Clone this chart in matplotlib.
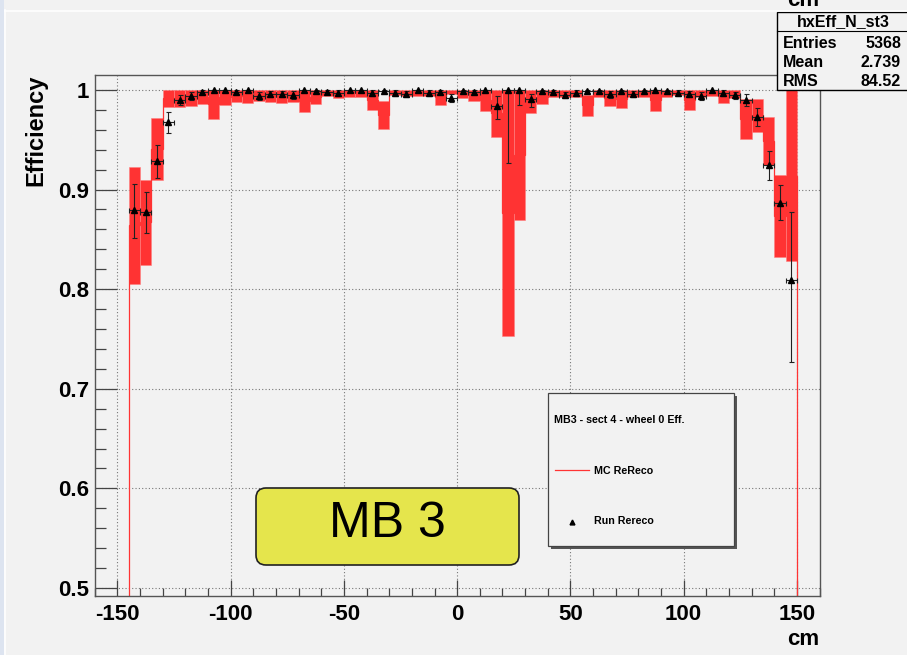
import numpy as np
import matplotlib
matplotlib.use("Agg")
import matplotlib.pyplot as plt
from matplotlib.ticker import MultipleLocator
from matplotlib.patches import Rectangle, FancyBboxPatch
from matplotlib.lines import Line2D

plt.rcParams['font.family'] = ['Liberation Sans', 'DejaVu Sans']
plt.rcParams['axes.unicode_minus'] = False

# ---- data -------------------------------------------------------------
bin_edges = np.arange(-150.0, 150.0 + 5.0, 5.0)   # 60 bins, 5 cm wide
bin_centers = 0.5 * (bin_edges[:-1] + bin_edges[1:])

# MC ReReco efficiency per bin and its error band half-width
mc_eff = [np.nan, 0.864, 0.867, 0.941, 0.9915, 0.9915, 0.992, 0.993, 0.9855, 0.9925,
          0.994, 0.9935, 0.9945, 0.994, 0.9935, 0.994, 0.989, 0.993, 0.997, 0.996,
          0.9965, 0.9965, 0.990, 0.975, 0.9975, 0.997, 0.997, 0.997, 0.9925, 0.998,
          0.996, 0.9945, 0.9895, 0.9765, 0.8765, 0.9345, 0.9885, 0.993, 0.9965, 0.9965,
          0.9965, 0.9845, 0.9965, 0.992, 0.991, 0.9965, 0.9965, 0.9895, 0.9965, 0.9975,
          0.990, 0.9965, 0.997, 0.9935, 0.996, 0.971, 0.9745, 0.949, 0.8735, 0.914]
mc_err = [np.nan, 0.059, 0.043, 0.031, 0.0085, 0.0085, 0.008, 0.007, 0.0145, 0.0075,
          0.006, 0.0065, 0.0055, 0.006, 0.0065, 0.006, 0.011, 0.007, 0.003, 0.004,
          0.0035, 0.0035, 0.010, 0.014, 0.0025, 0.003, 0.003, 0.003, 0.0075, 0.002,
          0.004, 0.0055, 0.0105, 0.0235, 0.1235, 0.0655, 0.0115, 0.007, 0.0035, 0.0035,
          0.0035, 0.0105, 0.0035, 0.008, 0.009, 0.0035, 0.0035, 0.0105, 0.0035, 0.0025,
          0.010, 0.0035, 0.003, 0.0065, 0.004, 0.020, 0.0165, 0.024, 0.0415, 0.086]

# Run Rereco efficiency per bin with asymmetric errors
run_eff = [np.nan, 0.879, 0.877, 0.929, 0.968, 0.990, 0.994, 0.998, 1.000, 1.000,
           0.998, 1.000, 0.994, 0.996, 0.996, 0.995, 1.000, 0.999, 0.998, 0.997,
           1.000, 1.000, 0.997, 0.999, 0.997, 0.996, 1.000, 0.997, 0.998, 0.992,
           0.999, 0.998, 1.000, 0.984, 1.000, 1.000, 0.991, 0.999, 0.998, 0.995,
           0.997, 0.999, 0.999, 0.996, 0.999, 0.996, 0.999, 1.000, 0.999, 0.997,
           0.996, 0.994, 1.000, 0.997, 0.995, 0.990, 0.973, 0.925, 0.887, 0.809]
run_err_lo = [np.nan, 0.028, 0.021, 0.017, 0.011, 0.005, 0.004, 0.002, 0.002, 0.002,
              0.002, 0.002, 0.004, 0.003, 0.003, 0.004, 0.002, 0.002, 0.002, 0.003,
              0.002, 0.002, 0.003, 0.002, 0.003, 0.003, 0.002, 0.003, 0.002, 0.004,
              0.002, 0.002, 0.002, 0.013, 0.073, 0.015, 0.008, 0.002, 0.002, 0.003,
              0.003, 0.002, 0.002, 0.004, 0.002, 0.003, 0.002, 0.002, 0.002, 0.003,
              0.003, 0.004, 0.002, 0.003, 0.004, 0.006, 0.009, 0.015, 0.018, 0.082]
run_err_hi = [np.nan, 0.027, 0.021, 0.016, 0.010, 0.005, 0.004, 0.002, 0.000, 0.000,
              0.002, 0.000, 0.004, 0.003, 0.003, 0.004, 0.000, 0.001, 0.002, 0.003,
              0.000, 0.000, 0.003, 0.001, 0.003, 0.003, 0.000, 0.003, 0.002, 0.004,
              0.001, 0.002, 0.000, 0.010, 0.000, 0.000, 0.005, 0.001, 0.002, 0.003,
              0.003, 0.001, 0.001, 0.003, 0.001, 0.003, 0.001, 0.000, 0.001, 0.003,
              0.003, 0.004, 0.000, 0.003, 0.003, 0.006, 0.009, 0.014, 0.018, 0.068]

stats_title = "hxEff_N_st3"
stats_rows = [("Entries", "5368"), ("Mean", "2.739"), ("RMS", "84.52")]
legend_header = "MB3 - sect 4 - wheel 0 Eff."
legend_labels = ["MC ReReco", "Run Rereco"]
chamber_label = "MB 3"
x_title = "cm"

# ---- figure -----------------------------------------------------------
W, H = 907, 655
BG = '#f2f2f2'
RED = '#ff3333'
fig = plt.figure(figsize=(W / 100, H / 100), dpi=100, facecolor=BG)

ax_l, ax_r, ax_t, ax_b = 94.8, 819.5, 75.0, 596.0
ax = fig.add_axes([ax_l / W, 1 - ax_b / H, (ax_r - ax_l) / W, (ax_b - ax_t) / H])
ax.set_facecolor(BG)

mc = np.array(mc_eff)
mce = np.array(mc_err)
valid = ~np.isnan(mc)

# MC error band
ax.bar(bin_centers[valid], 2 * mce[valid], bottom=(mc - mce)[valid], width=5.0,
       color=RED, edgecolor='#ff8080', linewidth=0.4, zorder=2)
# MC histogram outline
ax.stairs(np.nan_to_num(mc, nan=0.0), bin_edges, baseline=0.0, color=RED,
          linewidth=0.9, zorder=2)

# Run Rereco points
re = np.array(run_eff)
ok = ~np.isnan(re)
ax.errorbar(bin_centers[ok], re[ok],
            yerr=[np.array(run_err_lo)[ok], np.array(run_err_hi)[ok]],
            xerr=2.5, fmt='^', color='black', ms=4.5, elinewidth=0.8,
            ecolor='#202020', capsize=1.8, capthick=0.8, zorder=3)

ax.set_xlim(-160, 160)
ax.set_ylim(0.492, 1.015)
ax.xaxis.set_major_locator(MultipleLocator(50))
ax.xaxis.set_minor_locator(MultipleLocator(10))
ax.yaxis.set_major_locator(MultipleLocator(0.1))
ax.yaxis.set_minor_locator(MultipleLocator(0.02))
ax.yaxis.set_major_formatter(plt.FuncFormatter(lambda v, p: f"{v:g}"))
ax.xaxis.set_major_formatter(plt.FuncFormatter(lambda v, p: f"{v:g}"))

ax.grid(True, which='major', color='#777777', linestyle=(0, (1, 2)), linewidth=0.8, zorder=1)
ax.set_axisbelow(True)

ax.tick_params(axis='both', which='both', direction='in', top=False, right=False,
               color='#444444', width=0.9)
ax.tick_params(axis='y', which='major', length=15.5, pad=4, labelsize=16)
ax.tick_params(axis='y', which='minor', length=7.8)
ax.tick_params(axis='x', which='major', length=11.5, pad=6, labelsize=16)
ax.tick_params(axis='x', which='minor', length=5.8)
for lab in ax.get_xticklabels() + ax.get_yticklabels():
    lab.set_fontweight('bold')
for sp in ax.spines.values():
    sp.set_color('#555555')
    sp.set_linewidth(1.0)

fig.text(36 / W, 1 - 75 / H, "Efficiency", rotation=90, ha='center', va='top',
         fontsize=17, fontweight='bold')
fig.text(ax_r / W, 1 - 645 / H, x_title, ha='right', va='baseline',
         fontsize=16, fontweight='bold')

# ---- overlay in pixel coordinates ------------------------------------
ov = fig.add_axes([0, 0, 1, 1], zorder=10)
ov.set_xlim(0, W)
ov.set_ylim(H, 0)
ov.axis('off')
ov.patch.set_alpha(0)

# canvas border
ov.add_patch(Rectangle((0, 0), 4, H, facecolor='#dde4f0', edgecolor='none'))
ov.add_line(Line2D([4.5, 4.5], [10, H], color='white', linewidth=1.2))
ov.add_line(Line2D([4.5, W], [10.5, 10.5], color='white', linewidth=1.2))
# axis title of the pad above, cut by the canvas edge
ov.text(819.5, 6.5, x_title, ha='right', va='baseline', fontsize=16, fontweight='bold',
        clip_on=True)

# stats box
ov.add_patch(Rectangle((777, 12), 150, 78, facecolor=BG, edgecolor='black', linewidth=1.0))
ov.add_line(Line2D([777, W], [30.5, 30.5], color='black', linewidth=0.8))
ov.text(843, 21.5, stats_title, ha='center', va='center', fontsize=11.5, fontweight='bold')
for i, (k, v) in enumerate(stats_rows):
    y = 43 + 19.5 * i
    ov.text(783, y, k, ha='left', va='center', fontsize=11.5, fontweight='bold')
    ov.text(901, y, v, ha='right', va='center', fontsize=11.5, fontweight='bold')

# legend box with shadow
ov.add_patch(Rectangle((551, 396), 186, 153, facecolor='#555555', edgecolor='none'))
ov.add_patch(Rectangle((548.3, 393.3), 186, 153, facecolor=BG, edgecolor='#444444', linewidth=0.9))
ov.text(553.5, 420, legend_header, ha='left', va='center', fontsize=7.7, fontweight='bold')
ov.add_line(Line2D([555, 588.5], [470, 470], color=RED, linewidth=0.9))
ov.text(594.5, 470.5, legend_labels[0], ha='left', va='center', fontsize=7.7, fontweight='bold')
ov.add_line(Line2D([571.7], [521.5], marker='^', color='black', ms=3.5, linestyle='none'))
ov.text(594.5, 521.5, legend_labels[1], ha='left', va='center', fontsize=7.7, fontweight='bold')

# chamber label
ov.add_patch(FancyBboxPatch((256, 488), 263, 77, boxstyle="round,pad=0,rounding_size=10",
                            facecolor='#e5e54c', edgecolor='#222222', linewidth=1.2))
ov.text(387.5, 524, chamber_label, ha='center', va='center', fontsize=36)

fig.savefig("out.png", dpi=100, facecolor=BG)
